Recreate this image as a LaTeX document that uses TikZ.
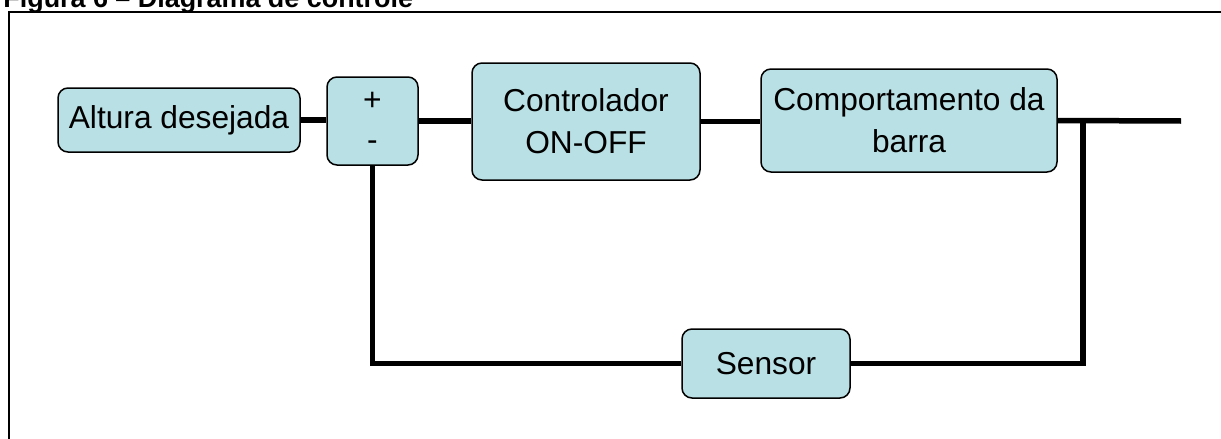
\documentclass[tikz,border=0pt]{standalone}
\usepackage{fontspec}
\setmainfont{Liberation Sans}
\definecolor{blockfill}{RGB}{185,224,228}
\begin{document}
\begin{tikzpicture}
[
    x=0.5pt, y=-0.5pt,
    block/.style={draw, line width=0.75pt, rounded corners=5pt, fill=blockfill,
        inner sep=0pt, align=center, font=\fontsize{15.85}{21}\selectfont},
    wire/.style={line width=2.75pt},
]
\useasboundingbox (0,0) rectangle (1221,439);
\node[anchor=base west, inner sep=0pt, font=\bfseries\fontsize{13.45}{16}\selectfont] (title) at (3,7) {Figura 6 – Diagrama de controle};
\draw[line width=0.8pt] (9,439) -- (9,12) -- (1221,12);

\node[block, minimum width=121pt, minimum height=32pt] (ref) at (179,120) {Altura desejada};
\node[block, minimum width=45.5pt, minimum height=44pt, font=\fontsize{15.85}{20}\selectfont] (sum) at (372.5,121) {+\\-};
\node[block, minimum width=114pt, minimum height=58.5pt] (ctrl) at (586,121.5) {Controlador\\ON-OFF};
\node[block, minimum width=148pt, minimum height=51.5pt] (plant) at (909,120.5) {Comportamento da\\barra};
\node[block, minimum width=84pt, minimum height=34.5pt] (sensor) at (766,363.5) {Sensor};
\coordinate (tap) at (1083,121);
\coordinate (out) at (1181,121);

\draw[wire] (ref.east) -- (sum.west |- ref.east);
\draw[wire] (sum.east) -- (ctrl.west |- sum.east);
\draw[wire] (ctrl.east) -- (plant.west |- ctrl.east);
\draw[wire] (plant.east) -- (out);
\draw[wire] (tap) |- (sensor.east);
\draw[wire] (sensor.west) -| (sum.south);
\end{tikzpicture}
\end{document}
